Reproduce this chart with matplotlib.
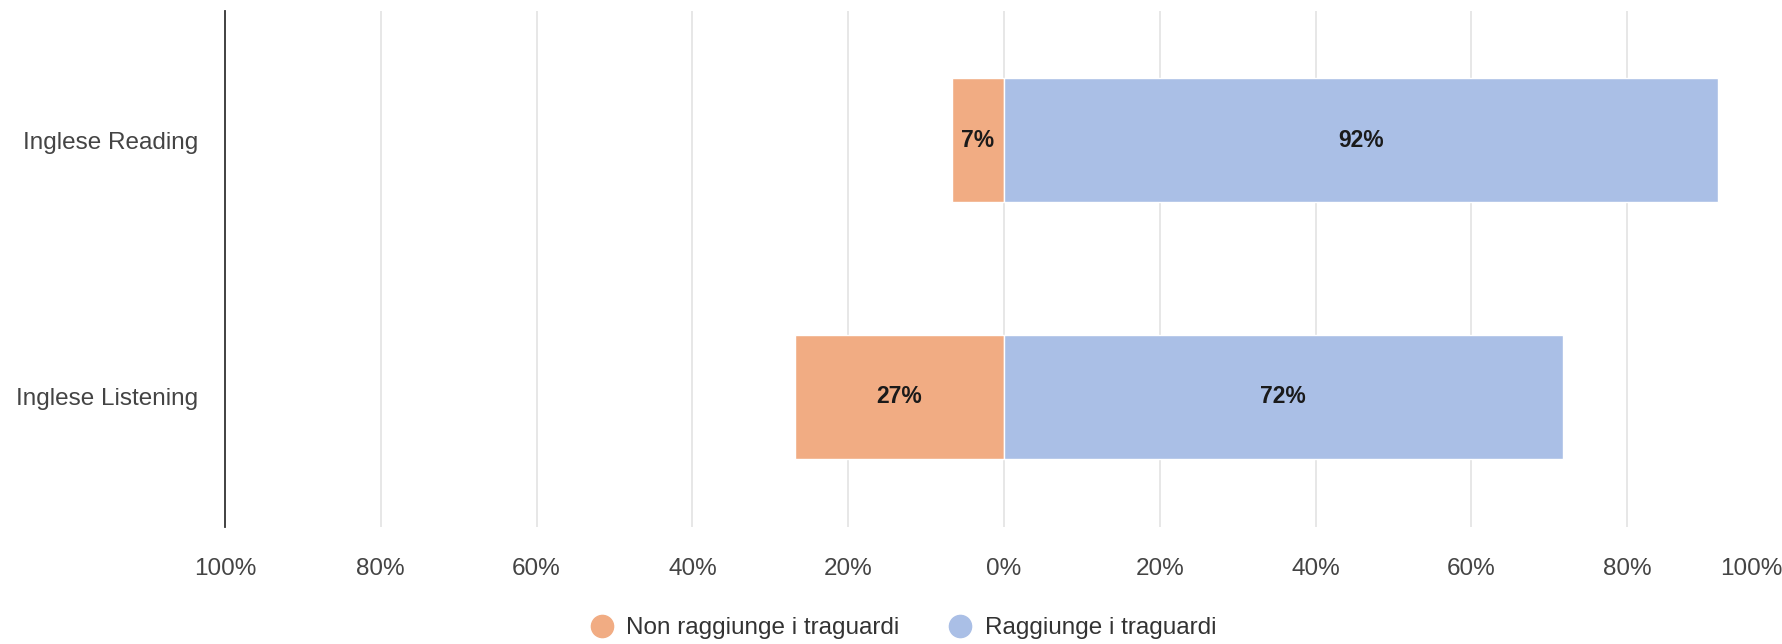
import matplotlib
matplotlib.use("Agg")
import matplotlib.pyplot as plt
from matplotlib.lines import Line2D

plt.rcParams['font.family'] = ['Liberation Sans', 'DejaVu Sans']

subjects = ['Inglese Listening', 'Inglese Reading']
not_reached = [26.8, 6.7]   # Non raggiunge i traguardi
reached = [71.7, 91.6]      # Raggiunge i traguardi
series_names = ['Non raggiunge i traguardi', 'Raggiunge i traguardi']
ticks = [-100, -80, -60, -40, -20, 0, 20, 40, 60, 80, 100]

orange = '#F1AC83'
blue = '#AABFE6'

fig = plt.figure(figsize=(17.83, 6.44), dpi=100)
ax = fig.add_axes([225 / 1783, 1 - 527 / 644, 1 - 225 / 1783, (527 - 11) / 644])

y = list(range(len(subjects)))
neg = [-v for v in not_reached]
b1 = ax.barh(y, neg, height=0.48, color=orange, edgecolor='white', linewidth=1, zorder=3)
b2 = ax.barh(y, reached, height=0.48, color=blue, edgecolor='white', linewidth=1, zorder=3)

for bars, vals in ((b1, not_reached), (b2, reached)):
    ax.bar_label(bars, labels=[f'{round(v)}%' for v in vals], label_type='center',
                 fontsize=16.5, fontweight='bold', color='#1a1a1a')

ax.set_xlim(-100, 100)
ax.set_ylim(-0.506, 1.502)
ax.set_xticks(ticks)
ax.set_xticklabels([f'{abs(t)}%' for t in ticks])
ax.get_xticklabels()[-1].set_ha('right')
ax.set_yticks(y)
ax.set_yticklabels(subjects)
ax.tick_params(axis='x', length=0, pad=22, labelsize=17.5, labelcolor='#444444')
ax.tick_params(axis='y', length=0, pad=19, labelsize=17.5, labelcolor='#444444')

for t in ticks[1:]:
    ax.axvline(t, color='#e3e3e3', linewidth=1.2, zorder=1)

for s in ['top', 'right', 'bottom']:
    ax.spines[s].set_visible(False)
ax.spines['left'].set_color('#333333')
ax.spines['left'].set_linewidth(1.3)

handles = [Line2D([], [], marker='o', linestyle='none', markersize=16,
                  markerfacecolor=c, markeredgecolor=c) for c in (orange, blue)]
fig.legend(handles, series_names, loc='center', bbox_to_anchor=(0.503, 1 - 628 / 644),
           ncol=2, frameon=False, fontsize=17.5, handletextpad=0.0, columnspacing=1.5,
           labelcolor='#333333')

fig.savefig('out.png', dpi=100)
